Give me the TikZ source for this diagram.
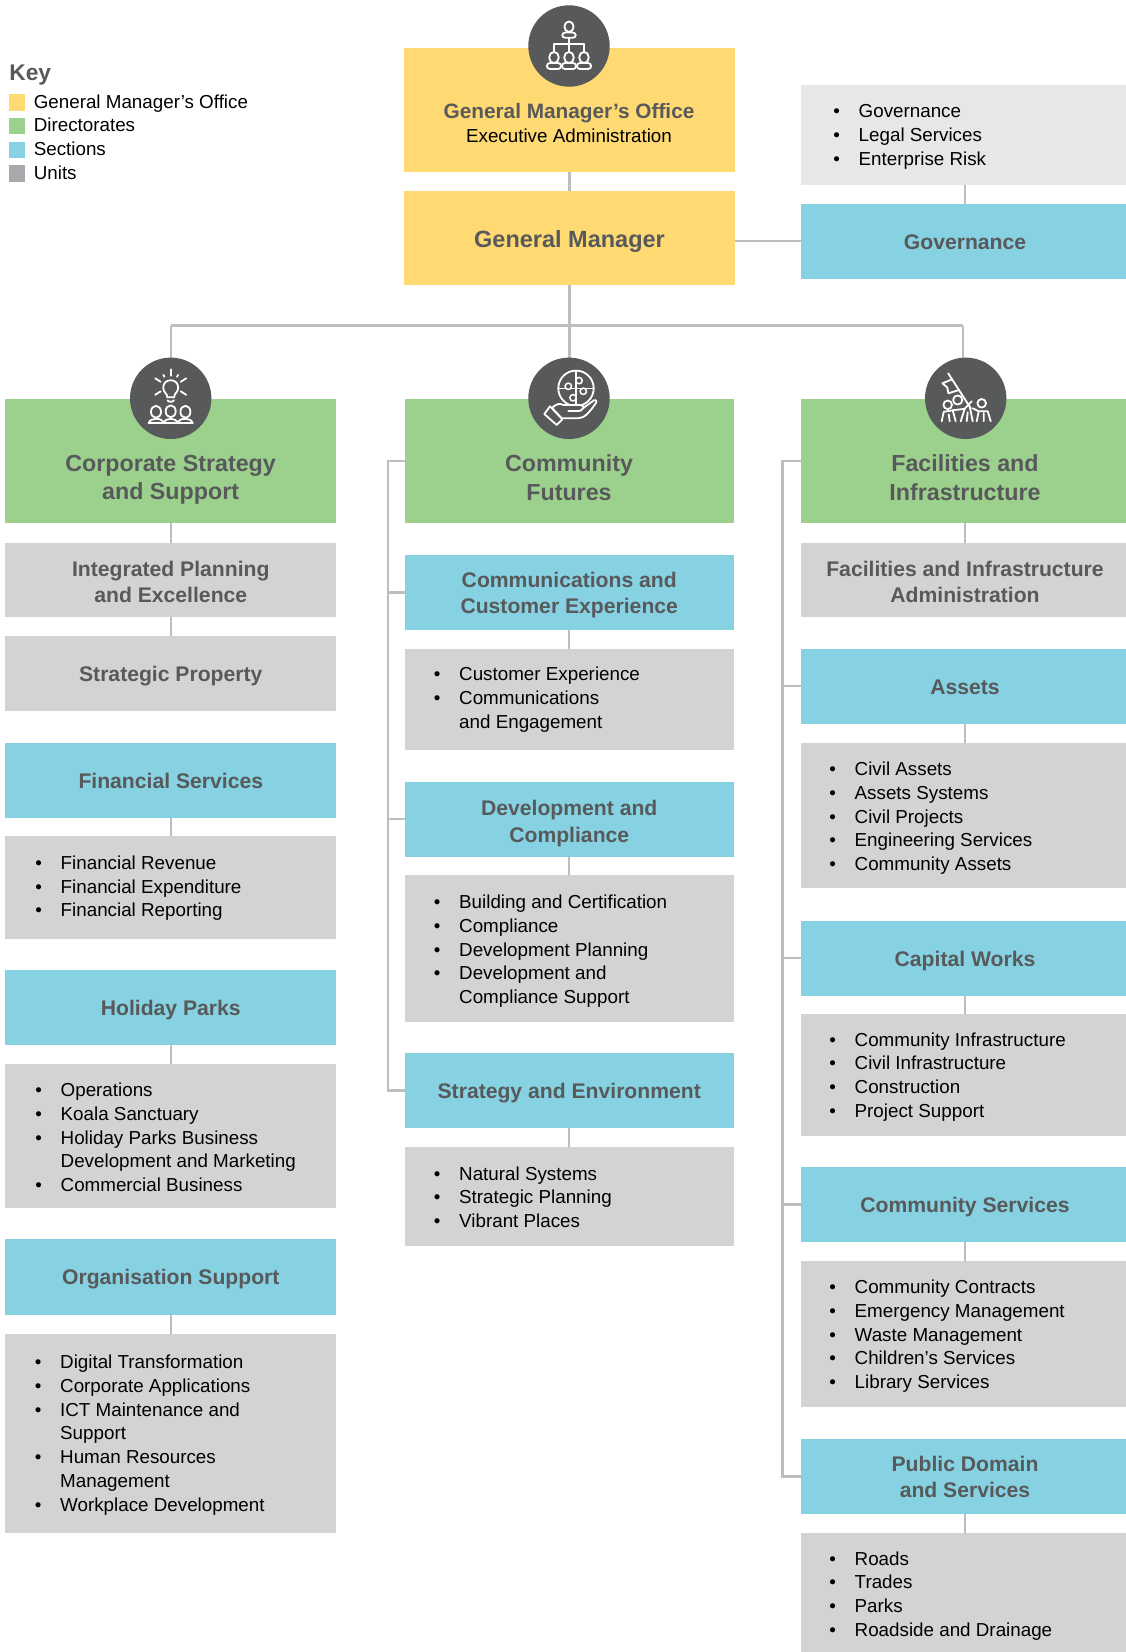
\documentclass[tikz,border=0pt]{standalone}
\usepackage{fontspec}
\setmainfont{Liberation Sans}
\definecolor{cgmo}{HTML}{FFDA73}
\definecolor{cdir}{HTML}{9CD08D}
\definecolor{csec}{HTML}{86D2E2}
\definecolor{cunit}{HTML}{D1D3D4}
\definecolor{cgov}{HTML}{E6E7E8}
\definecolor{ckey}{HTML}{A7A9AC}
\definecolor{cink}{HTML}{58595B}
\definecolor{cline}{HTML}{BCBEC0}
\tikzset{
  x=1pt,y=-1pt,
  boxbase/.style={inner sep=0pt,outer sep=0pt,align=center,text=cink,font=\fontsize{21.15}{26.3}\selectfont\bfseries},
  gmobox/.style={boxbase,fill=cgmo},
  dirbox/.style={boxbase,fill=cdir},
  secbox/.style={boxbase,fill=csec},
  unitbox/.style={boxbase,fill=cunit},
  govbox/.style={boxbase,fill=cgov},
  conn/.style={draw=cline,line width=2.2pt},
  bigtext/.style={inner sep=0pt,align=center,text=cink,font=\fontsize{23.25}{28.4}\selectfont\bfseries},
  listtext/.style={inner sep=0pt,anchor=north west,align=left,text=black,font=\fontsize{18.8}{23.75}\selectfont},
  keytext/.style={inner sep=0pt,anchor=base west,text=black,font=\fontsize{18.8}{23.75}\selectfont},
  keyswatch/.style={inner sep=0pt,minimum width=16.7pt,minimum height=16.4pt},
  disc/.style={fill=cink},
  ico/.style={draw=white,line width=1.8pt,line cap=round,line join=round},
  icofine/.style={draw=white,line width=1.5pt,line cap=round,line join=round},
}
\newcommand{\bx}[7]{%
  \pgfmathsetmacro\bxcx{(#3+#5)/2}\pgfmathsetmacro\bxcy{(#4+#6)/2}%
  \pgfmathsetmacro\bxw{#5-#3}\pgfmathsetmacro\bxh{#6-#4}%
  \node[#1,minimum width=\bxw pt,minimum height=\bxh pt] (#2) at (\bxcx,\bxcy) {\rule{0pt}{21pt}#7\rule[-5pt]{0pt}{5pt}};}
\newcommand{\ls}[5]{% name, text x, first baseline, lines
  \pgfmathsetmacro\lsy{#3-15}%
  \node[listtext] (#1) at (#2,\lsy) {\rule{0pt}{15pt}#4};}
\newcommand{\bl}{\llap{•\hspace{18.7pt}}}
\newcommand{\dn}{\rule{0pt}{25pt}}
\begin{document}
\begin{tikzpicture}
\clip (0,0) rectangle (1126,1652);
\useasboundingbox (0,0) rectangle (1126,1652);
\fill[white] (0,0) rectangle (1126,1652);
% boxes: top
\bx{gmobox}{gmo}{404}{47.5}{735}{172}{}
\bx{gmobox}{gm}{404}{191}{735}{284.7}{\dn\fontsize{23.5}{28.4}\selectfont General Manager}
\bx{govbox}{govl}{801}{84.5}{1129}{185}{}
\bx{secbox}{gov}{801}{203.5}{1129}{278.5}{Governance}
% left column
\bx{dirbox}{corp}{5.3}{398.7}{336.3}{523}{}
\bx{unitbox}{ipe}{5.3}{542.5}{336.3}{617}{\dn Integrated Planning\\and Excellence}
\bx{unitbox}{sp}{5.3}{636}{336.3}{711}{Strategic Property}
\bx{secbox}{fin}{5.3}{742.5}{336.3}{817.5}{Financial Services}
\bx{unitbox}{finl}{5.3}{836}{336.3}{938.5}{}
\bx{secbox}{hol}{5.3}{970}{336.3}{1045}{Holiday Parks}
\bx{unitbox}{holl}{5.3}{1064}{336.3}{1208}{}
\bx{secbox}{org}{5.3}{1239}{336.3}{1314.5}{Organisation Support}
\bx{unitbox}{orgl}{5.3}{1333.5}{336.3}{1532.5}{}
% middle column
\bx{dirbox}{cfu}{404.5}{398.7}{734}{523}{}
\bx{secbox}{cce}{404.5}{555}{734}{630}{Communications and\\Customer Experience}
\bx{unitbox}{ccel}{404.5}{649}{734}{750}{}
\bx{secbox}{dev}{404.5}{781.5}{734}{856.5}{\dn Development and\\Compliance}
\bx{unitbox}{devl}{404.5}{875}{734}{1022}{}
\bx{secbox}{env}{404.5}{1053}{734}{1128}{Strategy and Environment}
\bx{unitbox}{envl}{404.5}{1147}{734}{1246}{}
% right column
\bx{dirbox}{fac}{801}{398.7}{1129}{523}{}
\bx{unitbox}{fia}{801}{542.5}{1129}{617}{\dn Facilities and Infrastructure\\Administration}
\bx{secbox}{ast}{801}{649}{1129}{723.5}{Assets}
\bx{unitbox}{astl}{801}{742.5}{1129}{888}{}
\bx{secbox}{cap}{801}{920.5}{1129}{995.5}{Capital Works}
\bx{unitbox}{capl}{801}{1014}{1129}{1135.5}{}
\bx{secbox}{csv}{801}{1167}{1129}{1242}{Community Services}
\bx{unitbox}{csvl}{801}{1261}{1129}{1407}{}
\bx{secbox}{pub}{801}{1439}{1129}{1514}{Public Domain\\and Services}
\bx{unitbox}{publ}{801}{1533}{1129}{1660}{}
% connectors
\coordinate (trunk) at (569.5,325.5);
\coordinate (trl) at (170.8,325.5);
\coordinate (trr) at (963,325.5);
\coordinate (busm) at (387.6,461);
\coordinate (busr) at (782.5,461);
\draw[conn] (gmo.south) -- (gm.north);
\draw[conn] (gm.south) -- (trunk);
\draw[conn] (gm.east |- gov.west) -- (gov.west);
\draw[conn] (govl.south) -- (gov.north);
\draw[conn] (trl) -- (trr);
\draw[conn] (trl) -- (corp.north);
\draw[conn] (trunk) -- (trunk |- cfu.north);
\draw[conn] (trr) -- (trr |- fac.north);
\foreach \a/\b in {corp/ipe,ipe/sp,fin/finl,hol/holl,org/orgl,cce/ccel,dev/devl,env/envl,fac/fia,ast/astl,cap/capl,csv/csvl,pub/publ}{
  \draw[conn] (\a.south) -- (\b.north);}
\draw[conn] (cfu.west |- busm) -- (busm) |- (env.west);
\draw[conn] (busm |- cce.west) -- (cce.west);
\draw[conn] (busm |- dev.west) -- (dev.west);
\draw[conn] (fac.west |- busr) -- (busr) |- (pub.west);
\draw[conn] (busr |- ast.west) -- (ast.west);
\draw[conn] (busr |- cap.west) -- (cap.west);
\draw[conn] (busr |- csv.west) -- (csv.west);
% key
\node[inner sep=0pt,anchor=base west,text=cink,font=\fontsize{22.7}{26}\selectfont\bfseries] (keyt) at (9.2,80.7) {Key};
\node[keyswatch,fill=cgmo,anchor=north west] (k1) at (8.3,94) {};
\node[keyswatch,fill=cdir,anchor=north west] (k2) at (8.3,117.7) {};
\node[keyswatch,fill=csec,anchor=north west] (k3) at (8.3,141.3) {};
\node[keyswatch,fill=ckey,anchor=north west] (k4) at (8.3,165) {};
\node[keytext] (kt1) at (33.6,108.3) {General Manager’s Office};
\node[keytext] (kt2) at (33.6,131.9) {Directorates};
\node[keytext] (kt3) at (33.6,155.5) {Sections};
\node[keytext] (kt4) at (33.6,179.3) {Units};
% labels in big boxes
\node[boxbase,font=\fontsize{20.8}{23.7}\selectfont] (gmot) at (569,123) {\bfseries General Manager’s Office\\\fontsize{18.8}{23.7}\selectfont\mdseries\color{black} Executive Administration};
\node[bigtext] (corpt) at (170.6,479.6) {Corporate Strategy\\and Support};
\node[bigtext] (cfut) at (569,477.5) {Community\\Futures};
\node[bigtext] (fact) at (965,477.5) {Facilities and\\Infrastructure};
% lists
\ls{govt}{858.5}{117.6}{\bl Governance\\\bl Legal Services\\\bl Enterprise Risk}{}
\ls{fint}{60.5}{869.2}{\bl Financial Revenue\\\bl Financial Expenditure\\\bl Financial Reporting}{}
\ls{holt}{60.5}{1096.5}{\bl Operations\\\bl Koala Sanctuary\\\bl Holiday Parks Business\\Development and Marketing\\\bl Commercial Business}{}
\ls{orgt}{60}{1368.5}{\bl Digital Transformation\\\bl Corporate Applications\\\bl ICT Maintenance and\\Support\\\bl Human Resources\\Management\\\bl Workplace Development}{}
\ls{ccet}{459}{680.5}{\bl Customer Experience\\\bl Communications\\and Engagement}{}
\ls{devt}{459}{908.4}{\bl Building and Certification\\\bl Compliance\\\bl Development Planning\\\bl Development and\\Compliance Support}{}
\ls{envt}{459}{1179.8}{\bl Natural Systems\\\bl Strategic Planning\\\bl Vibrant Places}{}
\ls{astt}{854.5}{775.4}{\bl Civil Assets\\\bl Assets Systems\\\bl Civil Projects\\\bl Engineering Services\\\bl Community Assets}{}
\ls{capt}{854.5}{1046}{\bl Community Infrastructure\\\bl Civil Infrastructure\\\bl Construction\\\bl Project Support}{}
\ls{csvt}{854.5}{1293.5}{\bl Community Contracts\\\bl Emergency Management\\\bl Waste Management\\\bl Children’s Services\\\bl Library Services}{}
\ls{pubt}{854.5}{1565}{\bl Roads\\\bl Trades\\\bl Parks\\\bl Roadside and Drainage}{}
% icon discs
\node[disc,circle,inner sep=0pt,minimum size=81.4pt] (i1) at (569,46) {};
\node[disc,circle,inner sep=0pt,minimum size=81.4pt] (i2) at (170.7,398.3) {};
\node[disc,circle,inner sep=0pt,minimum size=81.4pt] (i3) at (569,398.3) {};
\node[disc,circle,inner sep=0pt,minimum size=81.4pt] (i4) at (965.7,398.3) {};
% icon 1: org chart
\begin{scope}[shift={(i1.center)}]
  \draw[ico] (0,-19.3) ellipse[x radius=4.6,y radius=5.2];
  \draw[ico,rounded corners=3pt] (-6.8,-8.2) -- (-6.8,-13.5) -- (6.8,-13.5) -- (6.8,-8.2) -- cycle;
  \draw[ico] (0,-8.2) -- (0,5.5) (-15,-2.2) -- (15,-2.2) (-15,-2.2) -- (-15,5.5) (15,-2.2) -- (15,5.5);
  \foreach \xx in {-15,0,15}{
    \draw[ico] (\xx,11.5) ellipse[x radius=4.8,y radius=5.6];
    \draw[ico,rounded corners=3pt] ({\xx-7.1},23) -- ({\xx-7.1},17) -- ({\xx+7.1},17) -- ({\xx+7.1},23) -- cycle;}
\end{scope}
% icon 2: bulb and people
\begin{scope}[shift={(i2.center)}]
  \draw[ico] (-3.4,-1) .. controls (-3.4,-5) and (-7.5,-6) .. (-7.5,-10.7) .. controls (-7.5,-20.5) and (7.5,-20.5) .. (7.5,-10.7) .. controls (7.5,-6) and (3.4,-5) .. (3.4,-1) -- cycle;
  \draw[ico] (-3.2,2) .. controls (-2.5,4) and (2.5,4) .. (3.2,2);
  \foreach \ax/\ay/\cx/\cy in {0/-29/0/-22.5,-7.3/-23.5/-6.3/-21.5,7.3/-23.5/6.3/-21.5,-15.5/-20/-10/-16.5,15.5/-20/10/-16.5,-15.5/-3.5/-10/-7,15.5/-3.5/10/-7}{
    \draw[ico] (\ax,\ay) -- (\cx,\cy);}
  \foreach \xx/\yy in {-14.7/13.5,0/13,14.7/13.5}{
    \draw[ico] (\xx,\yy) ellipse[x radius=5,y radius=6];}
  \draw[ico] (-22,25) .. controls (-21,21.5) and (-18,20.5) .. (-14.7,20.5) .. controls (-11,20.5) and (-8,21.5) .. (-7,25) .. controls (-6,21.5) and (-3,20.5) .. (0,20.5) .. controls (3,20.5) and (6,21.5) .. (7,25) .. controls (8,21.5) and (11,20.5) .. (14.7,20.5) .. controls (18,20.5) and (21,21.5) .. (22,25);
  \draw[ico] (-22,25) -- (22,25);
\end{scope}
% icon 3: puzzle in hand
\begin{scope}[shift={(i3.center)}]
  \draw[ico] (7,-10) circle[radius=17.7];
  \draw[icofine] (7,-27.7) -- (7,7) (-10.7,-10) -- (24.7,-10);
  \draw[icofine,fill=cink] (-0.7,-12) circle[radius=3.2];
  \draw[icofine,fill=cink] (10,-17.7) circle[radius=3.2];
  \draw[icofine,fill=cink] (14.3,-7) circle[radius=3.2];
  \draw[icofine,fill=cink] (4,-0.5) circle[radius=3.2];
  \draw[ico,fill=cink] (-17,9.5) .. controls (-12,5) and (-9,5) .. (-5.5,6.7) -- (10,6.7) .. controls (14,6.7) and (15,9) .. (14.5,9.5) -- (25,2) .. controls (28,1) and (28,4) .. (26,6) .. controls (21,13) and (16,20) .. (9,20) -- (-7.3,20) -- cycle;
  \draw[ico] (14.5,9.5) .. controls (13,12.5) and (11,12.7) .. (9,12.7) -- (-0.7,12.7);
  \draw[ico,fill=cink] (-24.7,15.7) -- (-19,8) -- (-6.7,21) -- (-12.3,26.7) -- cycle;
\end{scope}
% icon 4: flag and people
\begin{scope}[shift={(i4.center)}]
  \draw[ico] (-17.5,-25) -- (5,10);
  \draw[ico] (-13.5,-19) -- (-23.3,-15) -- (-18.5,-11) -- (-17.3,-5) -- (-6.7,-8.3);
  \draw[ico] (-18,6.5) circle[radius=4.3];
  \draw[ico] (-8,1.7) circle[radius=4.6];
  \draw[ico] (16,5) circle[radius=4.3];
  \draw[ico] (-24,23) -- (-22,13.5) -- (-13,12) -- (-10,23) (-17,16) -- (-16,23);
  \draw[ico] (-13,12) -- (-1,10.5) -- (6,3) (-1,10.5) -- (-5,23) (2,14) -- (1,23);
  \draw[ico] (4,8) -- (7,23) (7,10) -- (13,13) -- (22,13) -- (25,23) (13,13) -- (11,23) (18,15) -- (18,23);
\end{scope}
\end{tikzpicture}
\end{document}
